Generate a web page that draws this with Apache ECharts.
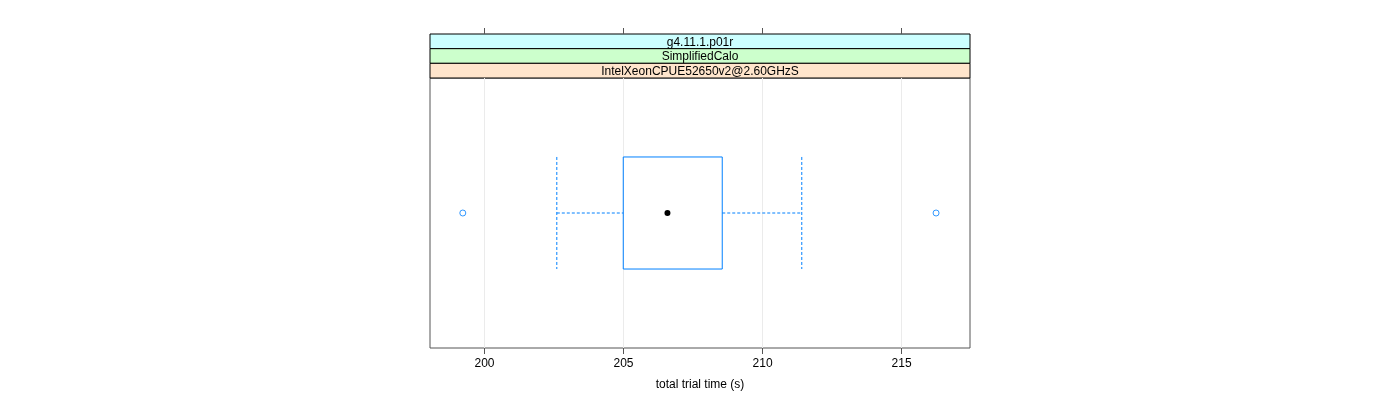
<!DOCTYPE html>
<html>
<head>
<meta charset="utf-8">
<script src="https://cdn.jsdelivr.net/npm/echarts@6/dist/echarts.min.js"></script>
<style>
html,body{margin:0;padding:0;background:#fff;}
#chart{width:1400px;height:400px;}
</style>
</head>
<body>
<div id="chart"></div>
<script>
// ---- data ----
var stripLabels = ['g4.11.1.p01r', 'SimplifiedCalo', 'IntelXeonCPUE52650v2@2.60GHzS'];
var stripColors = ['#ccffff', '#ccffcc', '#ffe5cc'];
var categories = [''];
var whiskerLow = [202.60];
var q1 = [204.99];
var median = [206.58];
var q3 = [208.55];
var whiskerHigh = [211.41];
var outliers = [199.22, 216.24];
var tickValues = [200, 205, 210, 215];
var xMin = 198.04, xMax = 217.46;
var xTitle = 'total trial time (s)';

// ---- layout ----
var G = {left: 430, right: 1400 - 970, top: 78, bottom: 400 - 348};
var stripTop = 34, stripH = (78 - 34) / 3;
var FONT = '"Liberation Sans", Arial, sans-serif';
var BLUE = '#0080ff';

var boxData = categories.map(function (c, i) {
  return [i, whiskerLow[i], q1[i], median[i], q3[i], whiskerHigh[i]];
});
var outData = outliers.map(function (v) { return [v, 0]; });

function renderBox(params, api) {
  var ci = api.value(0);
  var lo = api.value(1), a = api.value(2), m = api.value(3), b = api.value(4), hi = api.value(5);
  var pLo = api.coord([lo, ci]), pA = api.coord([a, ci]), pM = api.coord([m, ci]),
      pB = api.coord([b, ci]), pHi = api.coord([hi, ci]);
  var band = api.size([0, 1])[1];
  var h = band * 0.415;
  var y = pM[1];
  var dash = {stroke: BLUE, lineWidth: 1, lineDash: [3, 2]};
  return {
    type: 'group',
    children: [
      {type: 'line', shape: {x1: pLo[0], y1: y, x2: pA[0], y2: y}, style: dash},
      {type: 'line', shape: {x1: pB[0], y1: y, x2: pHi[0], y2: y}, style: dash},
      {type: 'line', shape: {x1: pLo[0], y1: y - h / 2, x2: pLo[0], y2: y + h / 2}, style: dash},
      {type: 'line', shape: {x1: pHi[0], y1: y - h / 2, x2: pHi[0], y2: y + h / 2}, style: dash},
      {type: 'rect', shape: {x: pA[0], y: y - h / 2, width: pB[0] - pA[0], height: h},
        style: {fill: 'none', stroke: BLUE, lineWidth: 1}},
      {type: 'circle', shape: {cx: pM[0], cy: y, r: 3}, style: {fill: '#000'}}
    ]
  };
}

var graphics = [];
stripLabels.forEach(function (lab, i) {
  graphics.push({
    type: 'rect', x: 430, y: stripTop + i * stripH,
    shape: {width: 540, height: stripH},
    style: {fill: stripColors[i], stroke: '#000', lineWidth: 1}
  });
  graphics.push({
    type: 'text', x: 700, y: stripTop + i * stripH + stripH / 2 + 1,
    style: {text: lab, font: '12px ' + FONT, fill: '#000', align: 'center', verticalAlign: 'middle'},
    z: 10
  });
});

var chart = echarts.init(document.getElementById('chart'), null, {renderer: 'canvas'});
chart.setOption({
  animation: false,
  backgroundColor: '#fff',
  grid: {left: G.left, right: G.right, top: G.top, bottom: G.bottom, show: true,
    borderColor: '#555', borderWidth: 1, backgroundColor: 'transparent'},
  xAxis: [{
    type: 'value', min: xMin, max: xMax, splitNumber: 4, position: 'bottom',
    name: xTitle, nameLocation: 'middle', nameGap: 31,
    nameTextStyle: {fontFamily: FONT, fontSize: 12, color: '#000'},
    axisLine: {show: false},
    axisTick: {show: true, length: 6, inside: false, customValues: tickValues, lineStyle: {color: '#555'}},
    axisLabel: {show: true, margin: 10, customValues: tickValues, fontFamily: FONT, fontSize: 12, color: '#000'},
    splitLine: {show: true, lineStyle: {color: '#ebebeb', width: 1}}
  }, {
    type: 'value', min: xMin, max: xMax, splitNumber: 4, position: 'top', offset: 44,
    axisLine: {show: false},
    axisTick: {show: true, length: 6, inside: false, customValues: tickValues, lineStyle: {color: '#555'}},
    axisLabel: {show: false},
    splitLine: {show: false}
  }],
  yAxis: {
    type: 'category', data: categories, show: false,
    axisLine: {show: false}, axisTick: {show: false}, splitLine: {show: false}
  },
  graphic: graphics,
  series: [{
    type: 'custom', xAxisIndex: 0, renderItem: renderBox,
    encode: {x: [1, 2, 3, 4, 5], y: 0}, data: boxData, z: 5
  }, {
    type: 'scatter', xAxisIndex: 0, data: outData, symbol: 'circle', symbolSize: 6,
    itemStyle: {color: 'transparent', borderColor: BLUE, borderWidth: 1}, z: 5
  }]
});
</script>
</body>
</html>
